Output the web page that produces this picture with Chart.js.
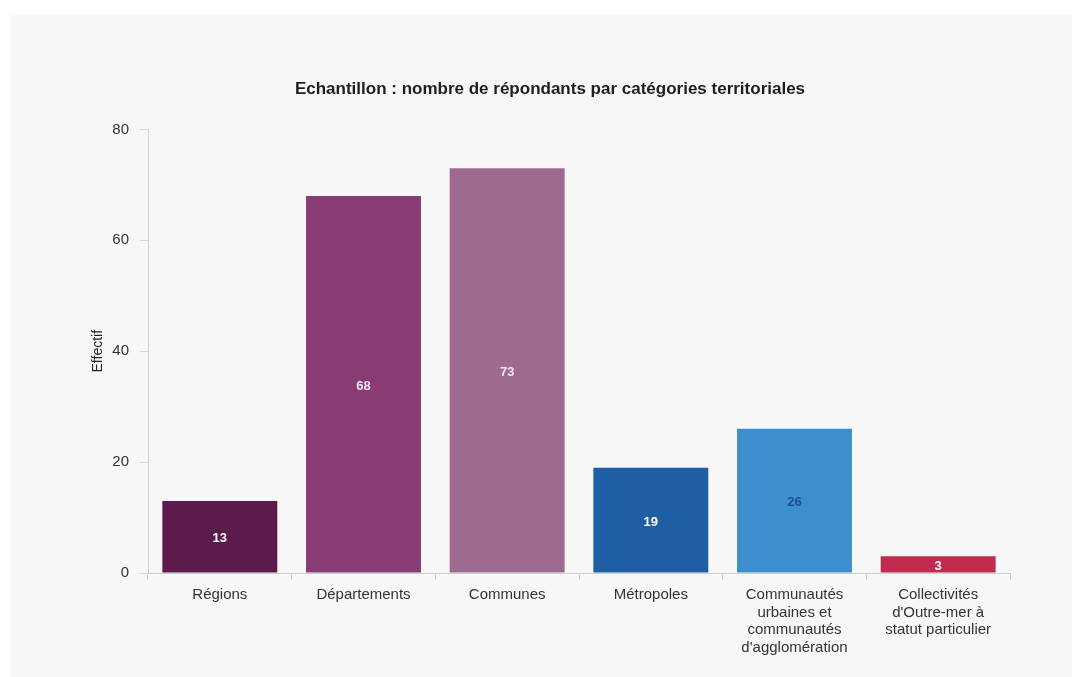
<!DOCTYPE html>
<html lang="fr">
<head>
<meta charset="utf-8">
<title>Echantillon</title>
<script src="https://cdn.jsdelivr.net/npm/chart.js@4/dist/chart.umd.min.js"></script>
<style>
  html, body { margin: 0; padding: 0; background: #ffffff; }
  #panel {
    position: absolute; left: 10px; top: 15px;
    width: 1062px; height: 662px;
    background: #f7f7f7;
  }
</style>
</head>
<body>
<div id="panel"><canvas id="graph" width="1062" height="662"></canvas></div>
<script>
// catégories territoriales
var categories = [
    'Régions',
    'Départements',
    'Communes',
    'Métropoles',
    ['Communautés', 'urbaines et', 'communautés', "d'agglomération"],
    ['Collectivités', "d'Outre-mer à", 'statut particulier']
];
var effectifs = [13, 68, 73, 19, 26, 3];
var couleurs = ['#5c1a4d', '#883c73', '#9d6b90', '#1d5ea5', '#3d8ecf', '#c22a4e'];
var couleursTexte = ['#ffffff', '#f8e6f4', '#f8e6f4', '#ffffff', '#1c4f8c', '#ffffff'];
var ticksY = [0, 20, 40, 60, 80];

var police = '"Liberation Sans", Arial, sans-serif';

// écrit la valeur au milieu de chaque barre
var valeursBarres = {
    id: 'valeursBarres',
    afterDatasetsDraw: function (chart) {
        var ctx = chart.ctx;
        var meta = chart.getDatasetMeta(0);
        ctx.save();
        ctx.font = 'bold 13px ' + police;
        ctx.textAlign = 'center';
        ctx.textBaseline = 'middle';
        meta.data.forEach(function (bar, i) {
            ctx.fillStyle = couleursTexte[i];
            ctx.fillText(effectifs[i], bar.x, (bar.y + bar.base) / 2 + 2);
        });
        ctx.restore();
    }
};

new Chart(document.getElementById('graph'), {
    type: 'bar',
    data: {
        labels: categories,
        datasets: [{
            label: 'Effectif',
            data: effectifs,
            backgroundColor: couleurs,
            borderWidth: 0,
            barPercentage: 0.8,
            categoryPercentage: 1
        }]
    },
    plugins: [valeursBarres],
    options: {
        responsive: false,
        animation: false,
        layout: { padding: { left: 80, right: 62, top: 0, bottom: 0 } },
        plugins: {
            legend: { display: false },
            tooltip: { enabled: false },
            title: {
                display: true,
                text: 'Echantillon : nombre de répondants par catégories territoriales',
                color: '#1e1e1e',
                font: { family: police, size: 17, weight: 'bold' },
                padding: { top: 64, bottom: 30 }
            }
        },
        scales: {
            x: {
                grid: {
                    offset: true,
                    drawOnChartArea: false,
                    drawTicks: true,
                    tickLength: 7,
                    color: '#d0d0d0'
                },
                border: { color: '#cfcfcf' },
                ticks: {
                    color: '#333333',
                    padding: 6,
                    maxRotation: 0,
                    autoSkip: false,
                    font: { family: police, size: 15, lineHeight: 1.18 }
                },
                afterFit: function (scale) { scale.height = 104; }
            },
            y: {
                min: 0,
                max: 80,
                afterBuildTicks: function (scale) {
                    scale.ticks = ticksY.map(function (v) { return { value: v }; });
                },
                grid: {
                    drawOnChartArea: false,
                    drawTicks: true,
                    tickLength: 8,
                    color: '#d8d8d8'
                },
                border: { color: '#d0d0d0' },
                ticks: {
                    color: '#333333',
                    padding: 11,
                    font: { family: police, size: 15 }
                },
                title: {
                    display: true,
                    text: 'Effectif',
                    color: '#222222',
                    font: { family: police, size: 14 },
                    padding: 0
                },
                afterFit: function (scale) { scale.width = 58; }
            }
        }
    }
});
</script>
</body>
</html>
